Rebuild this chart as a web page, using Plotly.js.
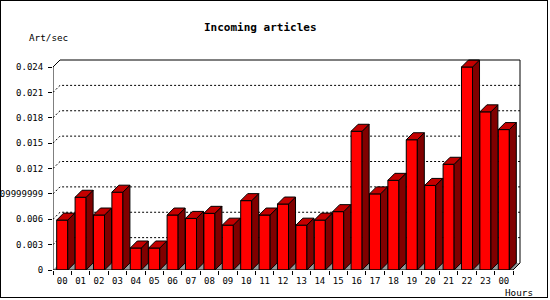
<!DOCTYPE html>
<html><head><meta charset="utf-8">
<script src="https://cdn.plot.ly/plotly-3.0.1.min.js"></script>
<style>
html,body{margin:0;padding:0;background:#fff}
#c{width:550px;height:300px;position:relative}
#b{position:absolute;left:0;top:0;width:548px;height:298px;border:1px solid #000;box-sizing:border-box;pointer-events:none}
</style>
</head><body>
<div id="c"><div id="p" style="width:550px;height:300px"></div><div id="b"></div></div>
<script>
// ---- data ----
const hours = ["00","01","02","03","04","05","06","07","08","09","10","11","12","13","14","15","16","17","18","19","20","21","22","23","00"];
const artPerSec = [0.0059,0.0086,0.0065,0.0092,0.0026,0.0026,0.0065,0.0061,0.0067,0.0053,0.0082,0.0065,0.0078,0.0053,0.0059,0.0069,0.0164,0.0090,0.0106,0.0154,0.0100,0.0125,0.0240,0.0187,0.0166];
const yTickVals = [0,0.003,0.006,0.009,0.012,0.015,0.018,0.021,0.024];
const yTickText = ["0","0.003","0.006","0.009999999","0.012","0.015","0.018","0.021","0.024"];

// ---- geometry (pixels) ----
const ML=53, MB=30, PW=469, PH=212;
const PX_PER_CAT=18.4, PX_PER_UNIT=203/0.024, DEPTH=7;
const xr=[-0.5, -0.5+PW/PX_PER_CAT];
const yr=[0, PH/PX_PER_UNIT];
const dx=DEPTH/PX_PER_CAT, dy=DEPTH/PX_PER_UNIT;
const BW=0.6, hw=BW/2;
const n=hours.length;
const xs=hours.map((_,i)=>i);
const xL=-0.5, xR=n-0.5, yTop=yTickVals[yTickVals.length-1];
const bounds=[]; for(let i=0;i<=n;i++) bounds.push(i-0.5);

const topX=[],topY=[],sideX=[],sideY=[];
artPerSec.forEach((v,i)=>{
  topX.push(i-hw,i+hw,i+hw+dx,i-hw+dx,i-hw,null);
  topY.push(v,v,v+dy,v+dy,v,null);
  sideX.push(i+hw,i+hw,i+hw+dx,i+hw+dx,i+hw,null);
  sideY.push(0,v,v+dy,dy,0,null);
});

const traces=[
  {type:'bar',x:xs,y:artPerSec,width:BW,marker:{color:'#ff0000',line:{color:'#000',width:1}},hoverinfo:'skip'},
  {type:'scatter',mode:'lines',x:sideX,y:sideY,fill:'toself',fillcolor:'#800000',line:{color:'#000',width:1},hoverinfo:'skip'},
  {type:'scatter',mode:'lines',x:topX,y:topY,fill:'toself',fillcolor:'#c40000',line:{color:'#000',width:1},hoverinfo:'skip'}
];

const shapes=[];
shapes.push({type:'path',xref:'x',yref:'y',layer:'below',
  path:`M ${xL},0 L ${xR},0 L ${xR+dx},${dy} L ${xL+dx},${dy} Z`,fillcolor:'#999999',line:{width:0}});
yTickVals.slice(1,-1).forEach(t=>{
  shapes.push({type:'path',xref:'x',yref:'y',layer:'below',
    path:`M ${xL},${t} L ${xL+dx},${t+dy} L ${xR+dx},${t+dy}`,line:{color:'#000',width:1,dash:'2px,2px'}});
});
shapes.push({type:'path',xref:'x',yref:'y',layer:'above',
  path:`M ${xL},0 L ${xL},${yTop} L ${xL+dx},${yTop+dy} L ${xR+dx},${yTop+dy} L ${xR+dx},${dy} L ${xR},0 Z`,
  line:{color:'#000',width:1}});

const mono='DejaVu Sans Mono';
const layout={
  width:550,height:300,
  margin:{l:ML,r:550-ML-PW,t:300-MB-PH,b:MB,pad:0},
  paper_bgcolor:'#fff',plot_bgcolor:'#fff',
  showlegend:false,bargap:0,
  font:{family:mono,size:9,color:'#000'},
  xaxis:{range:xr,tickvals:xs,ticktext:hours,ticks:'',showline:false,showgrid:false,zeroline:false,automargin:false,
    ticklabelstandoff:4,
    tickfont:{family:mono,size:9,color:'#000'},
    minor:{tickvals:bounds,ticks:'outside',ticklen:4,tickcolor:'#000',tickwidth:1,showgrid:false}},
  yaxis:{range:yr,tickvals:yTickVals,ticktext:yTickText,ticks:'outside',ticklen:4,tickcolor:'#000',tickwidth:1,
    showline:false,showgrid:false,zeroline:false,automargin:false,ticklabelstandoff:3,
    tickfont:{family:mono,size:9,color:'#000'}},
  shapes:shapes,
  annotations:[
    {text:'<b>Incoming articles</b>',xref:'paper',yref:'paper',x:(260-ML)/PW,y:(300-MB-28)/PH,xanchor:'center',yanchor:'middle',showarrow:false,font:{family:mono,size:11,color:'#000'}},
    {text:'Art/sec',xref:'paper',yref:'paper',x:(26.5-ML)/PW,y:(300-MB-37.5)/PH,xanchor:'left',yanchor:'middle',showarrow:false,font:{family:mono,size:9.3,color:'#000'}},
    {text:'Hours',xref:'paper',yref:'paper',x:(535-ML)/PW,y:(300-MB-292)/PH,xanchor:'right',yanchor:'middle',showarrow:false,font:{family:mono,size:9.3,color:'#000'}}
  ]
};
Plotly.newPlot('p',traces,layout,{staticPlot:true,displayModeBar:false});
</script>
</body></html>
